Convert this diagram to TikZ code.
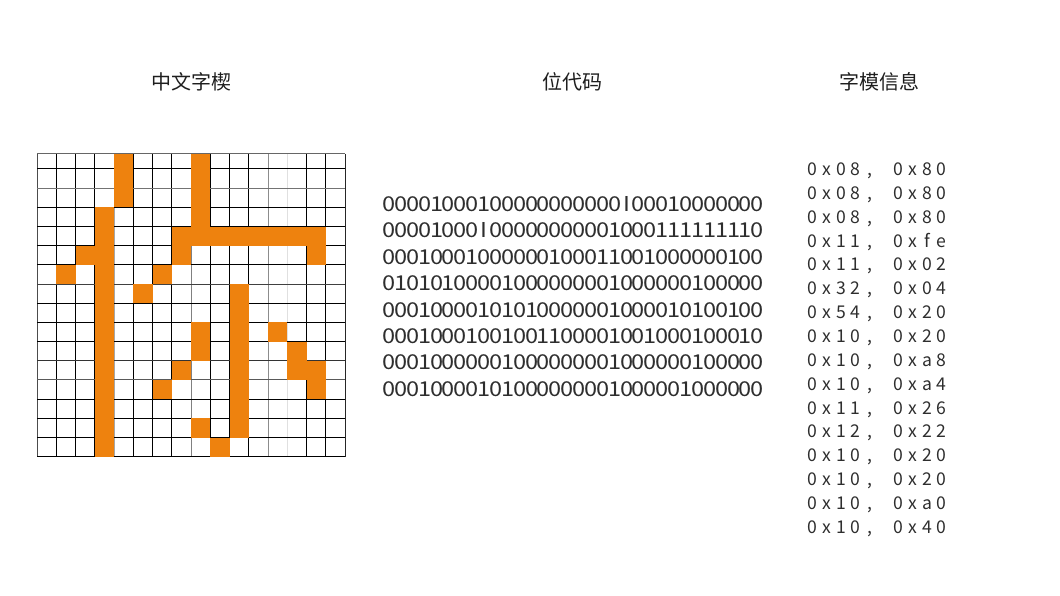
\documentclass[tikz,border=0pt]{standalone}
\usepackage{fontspec}
\usepackage{graphicx}
\setmainfont{Noto Sans CJK SC}
\definecolor{cellorange}{RGB}{238,130,14}
\definecolor{txt}{RGB}{30,30,30}
\newcommand\bcell[1]{\makebox[11.88pt][c]{\scalebox{1.15}[1]{#1}}}
\def\bitrow#1{\ifx#1\relax\else\bcell{#1}\expandafter\bitrow\fi}
\newcommand\hcell[1]{\makebox[14.4pt][c]{#1}}
\newcommand\hexpair[2]{\hcell{#1}\hcell{#2}}
\newcommand\hexline[2]{\hcell{0}\hcell{x}\hexpair#1\hcell{,}\hcell{}\hcell{0}\hcell{x}\hexpair#2}
\tikzset{
  title/.style={font=\fontsize{20}{24}\selectfont, inner sep=0pt, text=txt},
  bits/.style={font=\fontsize{20.5}{24}\selectfont, inner sep=0pt, anchor=base west, text=black!82},
  hex/.style={font=\fontsize{17.6}{20}\selectfont, inner sep=0pt, anchor=base west, text=black!82},
  gridline/.style={line width=1pt},
  oncell/.style={fill=cellorange}
}
\begin{document}
\begin{tikzpicture}[x=1pt,y=-1pt]
\useasboundingbox (0,0) rectangle (1060,596);
% titles
\node[title] (t1) at (191,81.5) {中文字楔};
\node[title] (t2) at (572,81.5) {位代码};
\node[title] (t3) at (879,81.5) {字模信息};
% grid lines
\foreach \i/\c in {0/black!70,1/black,2/black,3/black,4/black!35,5/black,6/black,7/black,8/black!50,9/black,10/black,11/black,12/black!45,13/black!12,14/black,15/black,16/black!85}
  \draw[gridline,draw=\c] ({37+19.25*\i},154) -- ({37+19.25*\i},456.7);
\foreach \j/\c in {0/black!60,1/black,2/black!55,3/black,4/black,5/black,6/black,7/black!75,8/black,9/black,10/black,11/black!80,12/black!65,13/black,14/black,15/black,16/black}{
  \pgfmathsetmacro\yy{\j==0 ? 154 : 169+19.18*(\j-1)}
  \draw[gridline,draw=\c] (37,\yy) -- (345,\yy);
}
% filled cells
\foreach \r/\k in {0/4,0/8,1/4,1/8,2/4,2/8,3/3,3/8,4/3,4/7,4/8,4/9,4/10,4/11,4/12,4/13,4/14,5/2,5/3,5/7,5/14,6/1,6/3,6/6,7/3,7/5,7/10,8/3,8/10,9/3,9/8,9/10,9/12,10/3,10/8,10/10,10/13,11/3,11/7,11/10,11/13,11/14,12/3,12/6,12/10,12/14,13/3,13/10,14/3,14/8,14/10,15/3,15/9}{
  \pgfmathsetmacro\yt{\r==0 ? 154 : 169+19.18*(\r-1)}
  \pgfmathsetmacro\yb{169+19.18*\r}
  \fill[oncell] ({37+19.25*\k},\yt) rectangle ({37+19.25*(\k+1)},\yb);
}
% bit code
\node[bits] (b1) at (382.9,211.5) {\bitrow 0000100010000000 0000I00010000000\relax};
\node[bits] (b2) at (382.9,237.9) {\bitrow 00001000I0000000 0001000111111110\relax};
\node[bits] (b3) at (382.9,264.3) {\bitrow 0001000100000010 0011001000000100\relax};
\node[bits] (b4) at (382.9,290.7) {\bitrow 0101010000100000 0001000000100000\relax};
\node[bits] (b5) at (382.9,317.1) {\bitrow 0001000010101000 0001000010100100\relax};
\node[bits] (b6) at (382.9,343.5) {\bitrow 0001000100100110 0001001000100010\relax};
\node[bits] (b7) at (382.9,369.9) {\bitrow 0001000000100000 0001000000100000\relax};
\node[bits] (b8) at (382.9,396.3) {\bitrow 0001000010100000 0001000001000000\relax};
% hex
\foreach \n/\a/\b [count=\i from 0] in {1/08/80,2/08/80,3/08/80,4/11/fe,5/11/02,6/32/04,7/54/20,8/10/20,9/10/a8,10/10/a4,11/11/26,12/12/22,13/10/20,14/10/20,15/10/a0,16/10/40}{
  \edef\hexcontent{\noexpand\hexline{\a}{\b}}
  \node[hex] (h\n) at (804.8,{175.5+23.85*\i}) {\hexcontent};
}
\end{tikzpicture}
\end{document}
